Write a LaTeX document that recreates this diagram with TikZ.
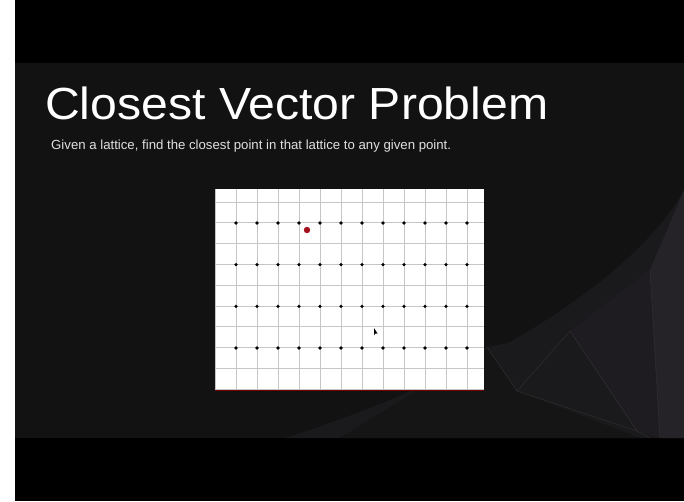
\documentclass[tikz,border=0pt]{standalone}
\usepackage{fontspec}
\setmainfont{Liberation Sans}
\definecolor{slidebg}{HTML}{121212}
\definecolor{facetA}{HTML}{1A191B}
\definecolor{facetB}{HTML}{1E1C20}
\definecolor{facetC}{HTML}{252327}
\definecolor{facetD}{HTML}{161516}
\definecolor{gridgray}{HTML}{C6C6C6}
\definecolor{targetred}{HTML}{A3101E}
\begin{document}
\begin{tikzpicture}[x=1pt,y=-1pt,
  gridline/.style={draw=gridgray, line width=1pt},
  latpt/.style={fill=black},
  facetedge/.style={draw=black!80, line width=0.4pt}]
\useasboundingbox (0,0) rectangle (684,501);
% frame and slide
\fill[white] (0,0) rectangle (15,501);
\fill[black] (15,0) rectangle (684,501);
\fill[slidebg] (15,63) rectangle (684,438);
% faceted background, lower right
\fill[facetA] (684,190) .. controls (640,270) and (500,370) .. (285,438) -- (684,438) -- cycle;
\fill[facetD] (487,347) -- (517,391) -- (640,438) -- (340,438) -- cycle;
\fill[facetA] (487,347) -- (570,331) -- (517,391) -- cycle;
\fill[facetB] (570,331) -- (650,270) -- (660,438) -- (637,431) -- cycle;
\fill[facetC] (650,270) -- (684,190) -- (684,438) -- (660,438) -- cycle;
\draw[facetedge] (487,347) -- (517,391) -- (637,431) -- (570,331) -- (517,391);
\draw[facetedge] (650,270) -- (660,438);
\draw[facetedge] (637,431) -- (650,438);
% title
\node[anchor=base west, inner sep=0, text=white, font=\fontsize{45}{50}\selectfont] (title) at (45,119) {\scalebox{1.07}[1]{Closest Vector Problem}};
\node[anchor=base west, inner sep=0, text=white!88!black, font=\fontsize{13.2}{15}\selectfont] (subtitle) at (51,149) {Given a lattice, find the closest point in that lattice to any given point.};
% lattice panel
\fill[white] (215,189) rectangle (484,390);
\begin{scope}
\clip (215,189) rectangle (484,390);
\foreach \i in {0,...,12}
  \draw[gridline] (215+21*\i,189) -- (215+21*\i,390);
\foreach \j in {0,...,9}
  \draw[gridline] (215,202+20.83*\j) -- (484,202+20.83*\j);
\end{scope}
\draw[red!45!black, line width=1pt] (215,390) -- (484,390);
\foreach \i in {0,...,11}
  \foreach \j in {0,...,3}
    \fill[latpt] (236+21*\i,223+41.67*\j) circle (1.8);
\fill[targetred] (307,230) circle (3.2);
% cursor
\fill[black] (374,328) -- (374,335) -- (375.7,333.4) -- (377.6,333.6) -- cycle;
\end{tikzpicture}
\end{document}
